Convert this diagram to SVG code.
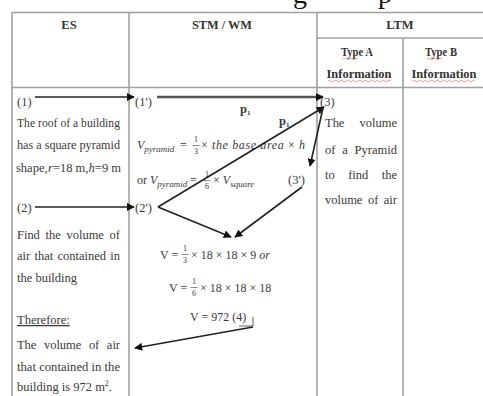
<svg xmlns="http://www.w3.org/2000/svg" width="483" height="396" viewBox="0 0 483 396">
<style>
.grid{stroke:#a0a0a0;stroke-width:1.6;fill:none}
.hd{font-family:"Liberation Serif",serif;font-weight:bold;font-size:12.5px;fill:#333;text-anchor:middle}
.t{font-family:"Liberation Serif",serif;font-size:12.5px;fill:#3a3a3a}
.f{font-family:"Liberation Serif",serif;font-size:12px;fill:#3a3a3a}
.i{font-style:italic}
.sb{font-size:9px}
.fr{font-family:"Liberation Serif",serif;font-size:8px;fill:#3a3a3a;text-anchor:middle}
.c{stroke:#222;stroke-width:1.6;fill:none}
.cb{stroke:#555;stroke-width:2.4;fill:none}
.sq{stroke:#d87070;stroke-width:0.7;fill:none}
.fl{stroke:#3a3a3a;stroke-width:0.6}
</style>
<defs>
<marker id="ah" viewBox="0 0 10 10" refX="9" refY="5" markerWidth="8" markerHeight="8" markerUnits="userSpaceOnUse" orient="auto">
<path d="M0,0 L10,5 L0,10 z" fill="#111"/>
</marker>
</defs>
<rect width="483" height="396" fill="#fff"/>
<g id="caption-fragment">
<text x="293" y="3" font-family="Liberation Serif,serif" font-size="28" fill="#111">g</text>
<text x="378" y="3" font-family="Liberation Serif,serif" font-size="28" fill="#111">p</text>
</g>
<g id="table">
<line class="grid" x1="12" y1="12.5" x2="483" y2="12.5" stroke-width="2.4" stroke="#8c8c8c"/>
<line class="grid" x1="12" y1="12" x2="12" y2="396"/>
<line class="grid" x1="129" y1="12" x2="129" y2="396"/>
<line class="grid" x1="317" y1="12" x2="317" y2="396"/>
<line class="grid" x1="403" y1="38" x2="403" y2="396"/>
<line class="grid" x1="317" y1="38" x2="483" y2="38"/>
<line class="grid" x1="12" y1="87.5" x2="483" y2="87.5" stroke-width="2"/>
<text class="hd" x="69" y="29">ES</text>
<text class="hd" x="222" y="29" textLength="60" lengthAdjust="spacingAndGlyphs">STM / WM</text>
<text class="hd" x="400" y="29">LTM</text>
<text class="hd" x="357" y="56" textLength="32" lengthAdjust="spacingAndGlyphs">Type A</text>
<text class="hd" x="359" y="78" textLength="65" lengthAdjust="spacingAndGlyphs">Information</text>
<text class="hd" x="441" y="56" textLength="32" lengthAdjust="spacingAndGlyphs">Type B</text>
<text class="hd" x="444" y="78" textLength="65" lengthAdjust="spacingAndGlyphs">Information</text>
<path class="sq" d="M343,59 q1.5,-1.5 3,0 t3,0 t3,0 t3,0 t3,0"/>
<path class="sq" d="M427,59 q1.5,-1.5 3,0 t3,0 t3,0 t3,0 t3,0"/>
<path class="sq" d="M328,81 q1.5,-1.5 3,0 t3,0 t3,0 t3,0 t3,0 t3,0 t3,0 t3,0 t3,0 t3,0 t3,0 t3,0 t3,0 t3,0 t3,0 t3,0 t3,0 t3,0 t3,0 t3,0 t3,0"/>
<path class="sq" d="M412,81 q1.5,-1.5 3,0 t3,0 t3,0 t3,0 t3,0 t3,0 t3,0 t3,0 t3,0 t3,0 t3,0 t3,0 t3,0 t3,0 t3,0 t3,0 t3,0 t3,0 t3,0 t3,0 t3,0"/>
</g>
<g id="es-1">
<text class="t" x="17" y="106">(1)</text>
<text class="t" x="17" y="127" textLength="103" lengthAdjust="spacingAndGlyphs">The roof of a building</text>
<text class="t" x="17" y="149" textLength="103" lengthAdjust="spacingAndGlyphs">has a square pyramid</text>
<text class="t" x="16" y="172" font-size="11.5">shape,</text>
<text class="t" x="48" y="172" font-size="11.5"><tspan class="i">r</tspan>=18 m,</text>
<text class="t" x="121" y="172" font-size="11.5" text-anchor="end"><tspan class="i">h</tspan>=9 m</text>
</g>
<g id="es-2">
<text class="t" x="17" y="212">(2)</text>
<text class="t" x="17" y="239" word-spacing="2.6" textLength="103" lengthAdjust="spacing">Find the volume of</text>
<text class="t" x="17" y="260" word-spacing="1.2" textLength="103" lengthAdjust="spacing">air that contained in</text>
<text class="t" x="17" y="282">the building</text>
</g>
<g id="es-conclusion">
<text class="t" x="17" y="324" text-decoration="underline">Therefore:</text>
<text class="t" x="17" y="349" word-spacing="4.5" textLength="103" lengthAdjust="spacing">The volume of air</text>
<text class="t" x="17" y="371" textLength="103" lengthAdjust="spacingAndGlyphs">that contained in the</text>
<text class="t" x="17" y="391">building is 972 m<tspan font-size="8" dy="-5">2</tspan><tspan dy="5">.</tspan></text>
</g>
<g id="stm-1">
<text class="t" x="135" y="106">(1')</text>
</g>
<g id="stm-formula">
<text class="f i" x="137" y="149">V<tspan class="sb" dy="3">pyramid</tspan></text>
<text class="f" x="180" y="149">=</text>
<text class="fr" x="196" y="142">1</text>
<line class="fl" x1="192.5" y1="145.5" x2="199.5" y2="145.5"/>
<text class="fr" x="196" y="154">3</text>
<text class="f i" x="201" y="149" textLength="104" lengthAdjust="spacing"><tspan font-style="normal">×</tspan> the base area <tspan font-style="normal">×</tspan> h</text>
<text class="f" x="137" y="184">or <tspan class="i">V</tspan><tspan class="sb i" dy="3">pyramid</tspan></text>
<text class="f" x="190" y="184">=</text>
<text class="fr" x="207" y="177">1</text>
<line class="fl" x1="203.5" y1="180.5" x2="210.5" y2="180.5"/>
<text class="fr" x="207" y="189">6</text>
<text class="f" x="213" y="184">× <tspan class="i">V</tspan><tspan class="sb i" dy="3">square</tspan></text>
</g>
<g id="stm-2">
<text class="t" x="135" y="212">(2')</text>
</g>
<g id="stm-3prime">
<text class="t" x="288" y="184">(3')</text>
</g>
<g id="stm-calc">
<text class="f" x="160" y="259">V = </text>
<text class="fr" x="185" y="251">1</text>
<line class="fl" x1="181.5" y1="254.5" x2="188.5" y2="254.5"/>
<text class="fr" x="185" y="263">3</text>
<text class="f" x="191" y="259">× 18 × 18 × 9  <tspan class="i">or</tspan></text>
<text class="f" x="169" y="292">V = </text>
<text class="fr" x="194" y="284">1</text>
<line class="fl" x1="190.5" y1="287.5" x2="197.5" y2="287.5"/>
<text class="fr" x="194" y="296">6</text>
<text class="f" x="200" y="292">× 18 × 18 × 18</text>
<text class="f" x="190" y="321">V = 972  (4)</text>
<path d="M239,326 H253 V317" stroke="#333" stroke-width="0.8" fill="none"/>
</g>
<g id="ltm-3">
<text class="t" x="320" y="106">(3)</text>
<text class="t" x="325" y="127" word-spacing="12" textLength="72" lengthAdjust="spacing">The volume</text>
<text class="t" x="325" y="154" word-spacing="3.7" textLength="72" lengthAdjust="spacing">of a Pyramid</text>
<text class="t" x="325" y="179" word-spacing="10.3" textLength="72" lengthAdjust="spacing">to find the</text>
<text class="t" x="325" y="204" word-spacing="2.4" textLength="72" lengthAdjust="spacing">volume of air</text>
</g>
<g id="connectors">
<line class="c" x1="35" y1="97" x2="134" y2="97" stroke-width="2" marker-end="url(#ah)"/>
<line class="cb" x1="157" y1="97" x2="323" y2="97" marker-end="url(#ah)"/>
<line class="c" x1="35" y1="207" x2="134" y2="207" marker-end="url(#ah)"/>
<line class="c" x1="158" y1="207" x2="324" y2="107" marker-end="url(#ah)"/>
<line class="c" x1="323" y1="108" x2="310" y2="166" marker-end="url(#ah)"/>
<line class="c" x1="158" y1="207" x2="231" y2="237" marker-end="url(#ah)"/>
<line class="c" x1="302" y1="187" x2="235" y2="237" marker-end="url(#ah)"/>
<line class="c" x1="253" y1="327" x2="135" y2="348" marker-end="url(#ah)"/>
<text class="t" x="240" y="113" font-weight="bold">p<tspan font-size="7" dy="2">1</tspan></text>
<text class="t" x="279" y="125" font-weight="bold">p<tspan font-size="7" dy="2">1</tspan></text>
</g>
</svg>
